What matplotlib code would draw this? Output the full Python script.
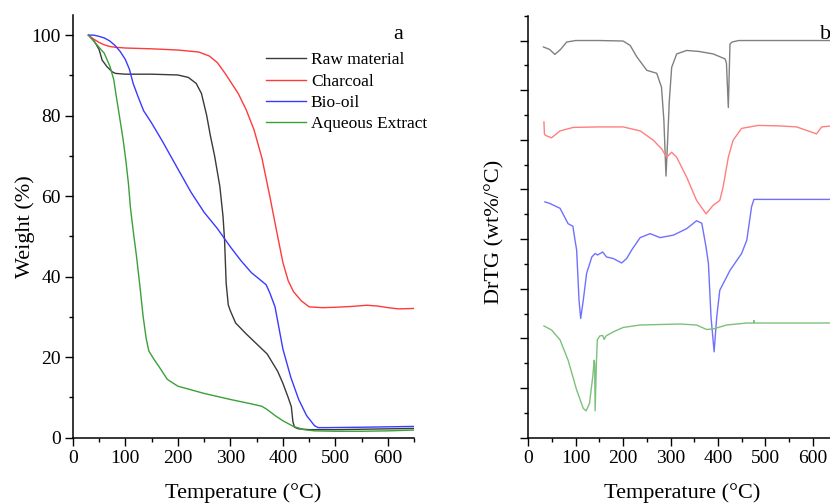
import matplotlib
matplotlib.use("Agg")
import matplotlib.pyplot as plt
from matplotlib.ticker import MultipleLocator, NullFormatter

plt.rcParams['font.family'] = ['Liberation Serif', 'DejaVu Serif']
plt.rcParams['mathtext.fontset'] = 'stix'

# ---------------- (a) TGA weight curves ----------------
raw_T = [30, 40, 50, 56, 65, 75, 81, 100, 150, 200, 220, 235, 245, 255, 262, 270, 280,
         286, 289, 292, 296, 300, 310, 330, 350, 370, 390, 400, 410, 416, 419, 422, 430,
         450, 500, 550, 600, 650]
raw_W = [100, 98.7, 96.5, 93.8, 92.2, 90.9, 90.5, 90.3, 90.3, 90.1, 89.5, 88, 85.5, 80,
         75, 70, 62.4, 55, 49, 38.4, 33, 31.5, 28.5, 25.8, 23.3, 20.8, 16.5, 13.5, 10,
         7.7, 4, 2.6, 2.2, 2.0, 2.0, 2.1, 2.2, 2.3]

char_T = [30, 40, 50, 60, 70, 80, 100, 150, 200, 240, 260, 275, 290, 300, 315, 330, 345,
          360, 375, 390, 400, 410, 420, 435, 450, 475, 500, 530, 560, 580, 600, 620, 650]
char_W = [100, 99, 98.2, 97.6, 97.2, 97, 96.8, 96.6, 96.3, 95.8, 94.8, 93.2, 90.5, 88.5,
          85.5, 81.5, 76.5, 69.5, 60, 50, 43.5, 39, 36.3, 34, 32.5, 32.3, 32.4, 32.6,
          32.9, 32.7, 32.3, 32.0, 32.1]

bio_T = [30, 40, 50, 60, 70, 80, 90, 100, 108, 115, 125, 135, 150, 170, 200, 225, 250,
         275, 300, 320, 340, 355, 368, 375, 385, 400, 415, 430, 445, 460, 467, 480, 550, 650]
bio_W = [100, 100, 99.7, 99.3, 98.6, 97.5, 96, 94, 91.5, 88, 84.5, 81.2, 78.2, 73.8,
         66.8, 61, 56, 52, 47.4, 44, 41, 39.4, 38, 36, 32.5, 22, 15, 9.5, 5.5, 3, 2.5,
         2.5, 2.6, 2.8]

aq_T = [30, 40, 50, 60, 71, 78, 84, 90, 96, 101, 106, 110, 115, 121, 128, 134, 140, 145,
        155, 165, 180, 200, 250, 300, 340, 360, 370, 385, 400, 420, 440, 460, 500, 550,
        600, 650]
aq_W = [100, 98.5, 97, 95.5, 92.2, 89, 83.9, 79, 74, 69, 63.2, 57, 51.5, 45.5, 37.5, 30.1,
        24.5, 21.5, 19.4, 17.5, 14.5, 12.8, 11, 9.5, 8.4, 7.8, 7.0, 5.5, 4.2, 2.8, 2.0,
        1.7, 1.6, 1.6, 1.7, 1.9]

series_names = ["Raw material", "Charcoal", "Bio-oil", "Aqueous Extract"]

# ---------------- (b) DrTG curves (vertically offset, arbitrary units) ----------------
g_T = [32, 45, 56, 68, 81, 100, 150, 200, 215, 229, 250, 271, 281, 286, 290.5, 294, 297.5,
       302.5, 313, 334, 360, 390, 415, 418, 422, 425.5, 430, 444, 500, 560, 650]
g_D = [7.87, 7.82, 7.72, 7.82, 7.97, 8.0, 8.0, 7.99, 7.9, 7.67, 7.40, 7.34, 7.06, 6.4,
       5.27, 6.0, 6.79, 7.46, 7.73, 7.80, 7.78, 7.73, 7.63, 7.55, 6.65, 7.93, 7.97, 8.0,
       8.0, 8.0, 8.0]

r_T = [33, 34, 36, 49, 67, 95, 150, 200, 236, 264, 281, 292, 302.5, 313, 334, 355, 375,
       390, 404, 411, 422, 432, 450, 485, 530, 566, 587, 608, 619, 650]
r_D = [6.36, 6.12, 6.09, 6.04, 6.18, 6.25, 6.26, 6.26, 6.18, 5.99, 5.82, 5.65, 5.75, 5.65,
       5.25, 4.78, 4.51, 4.68, 4.78, 5.05, 5.65, 5.99, 6.23, 6.29, 6.28, 6.26, 6.19, 6.12,
       6.26, 6.29]

b_T = [35, 45, 67, 84, 94, 98.5, 102, 107, 110.5, 116, 123, 134, 141, 146, 157, 165, 179,
       197, 207.6, 218, 236, 257, 278, 306, 334, 355, 366, 375, 380, 385.5, 392, 397.5,
       404, 425.5, 450, 461, 471, 476, 550, 650]
b_D = [4.75, 4.72, 4.62, 4.31, 4.26, 3.98, 3.78, 2.77, 2.40, 2.77, 3.31, 3.64, 3.71,
       3.68, 3.74, 3.64, 3.61, 3.52, 3.61, 3.78, 4.03, 4.11, 4.03, 4.08, 4.21, 4.37, 4.32,
       3.84, 3.51, 2.43, 1.73, 2.43, 2.97, 3.37, 3.71, 3.98, 4.65, 4.80, 4.80, 4.80]

a_T = [33, 49, 67, 84, 102, 116, 122, 129, 136, 139, 140, 141, 143.5, 145.6, 151, 157,
       160, 164, 179, 200, 236, 320, 355, 376, 390, 418.5, 461, 475, 476, 477, 520, 650]
a_D = [2.25, 2.17, 1.97, 1.56, 0.96, 0.59, 0.54, 0.69, 1.23, 1.56, 1.49, 0.54, 1.46,
       1.97, 2.05, 2.06, 1.98, 2.05, 2.13, 2.22, 2.27, 2.29, 2.27, 2.18, 2.19, 2.27, 2.31,
       2.31, 2.36, 2.31, 2.31, 2.31]

colors_a = ["#3a3a3a", "#ff3a3a", "#3a3aff", "#3aa03a"]
colors_b = ["#808080", "#ff7f7f", "#7070ff", "#7cc07c"]

fig = plt.figure(figsize=(8.3, 5.04), dpi=100)
W, H = 830, 504
axA = fig.add_axes([72.7 / W, (H - 437.7) / H, 341.6 / W, 422.7 / H])
axB = fig.add_axes([528.3 / W, (H - 437.7) / H, 308.1 / W, 422.0 / H])

for T, Wt, c, n in zip([raw_T, char_T, bio_T, aq_T], [raw_W, char_W, bio_W, aq_W],
                       colors_a, series_names):
    axA.plot(T, Wt, color=c, lw=1.0, label=n)

for T, D, c in zip([g_T, r_T, b_T, a_T], [g_D, r_D, b_D, a_D], colors_b):
    axB.plot(T, D, color=c, lw=1.0)

for ax in (axA, axB):
    ax.set_xlim(0, 650)
    ax.spines['top'].set_visible(False)
    ax.spines['right'].set_visible(False)
    for s in ('left', 'bottom'):
        ax.spines[s].set_linewidth(1.1)
    ax.xaxis.set_major_locator(MultipleLocator(100))
    ax.xaxis.set_minor_locator(MultipleLocator(50))
    ax.tick_params(which='major', direction='out', length=5.5, width=1.0,
                   labelsize=14, pad=3)
    ax.tick_params(which='minor', direction='out', length=3, width=1.0)
    ax.set_xlabel("Temperature (°C)", fontsize=16)
    ax.xaxis.set_label_coords(0.5, -0.108)

axA.set_ylim(0, 105)
axA.yaxis.set_major_locator(MultipleLocator(20))
axA.yaxis.set_minor_locator(MultipleLocator(10))
axA.set_ylabel("Weight (%)", fontsize=16)
axA.yaxis.set_label_coords(-0.11, 0.5)
axA.text(0.953, 0.955, "a", transform=axA.transAxes, fontsize=16, ha='center', va='center')
axA.legend(frameon=False, fontsize=12.5, loc='upper left', bbox_to_anchor=(0.565, 0.912),
           handlelength=2.3, handletextpad=0.3, labelspacing=0.3, borderaxespad=0,
           borderpad=0)

axB.set_ylim(0, 8.5)
axB.yaxis.set_major_locator(MultipleLocator(1))
axB.yaxis.set_minor_locator(MultipleLocator(0.5))
axB.yaxis.set_major_formatter(NullFormatter())
axB.set_ylabel("DrTG (wt%/°C)", fontsize=16)
axB.yaxis.set_label_coords(-0.076, 0.487)
axB.text(0.965, 0.955, "b", transform=axB.transAxes, fontsize=16, ha='center', va='center')

fig.savefig("out.png", dpi=100)
